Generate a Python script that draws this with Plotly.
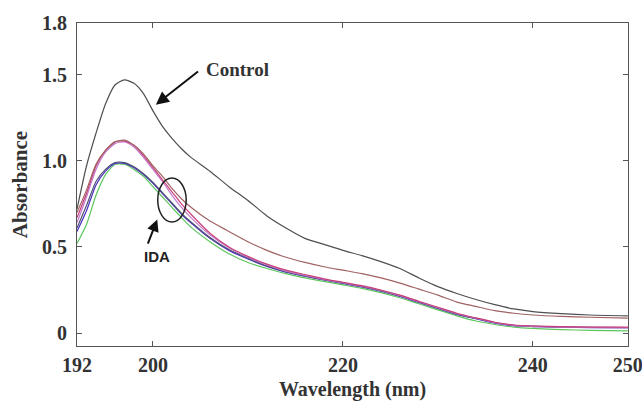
import plotly.graph_objects as go

# Wavelength grid (nm)
wavelength = [192, 193, 194, 195, 196, 197, 198, 199, 200, 201, 202, 203, 204,
              206, 208, 210, 212, 214, 216, 218, 220, 222, 224, 226, 228, 230,
              232, 234, 236, 238, 240, 243, 246, 250]

# Absorbance spectra
control = [0.72, 0.97, 1.16, 1.33, 1.44, 1.47, 1.45, 1.39, 1.29, 1.20, 1.13, 1.07, 1.02,
           0.94, 0.85, 0.77, 0.68, 0.61, 0.55, 0.515, 0.48, 0.45, 0.415, 0.375, 0.32, 0.27,
           0.23, 0.195, 0.165, 0.14, 0.125, 0.113, 0.105, 0.10]
ida_brown = [0.70, 0.83, 0.98, 1.06, 1.11, 1.12, 1.09, 1.04, 0.97, 0.91, 0.84, 0.78, 0.73,
             0.65, 0.59, 0.53, 0.48, 0.44, 0.41, 0.385, 0.365, 0.345, 0.32, 0.29, 0.255, 0.22,
             0.18, 0.155, 0.13, 0.115, 0.105, 0.097, 0.092, 0.087]
ida_crimson = [0.67, 0.81, 0.97, 1.06, 1.11, 1.115, 1.09, 1.03, 0.96, 0.89, 0.82, 0.75, 0.69,
               0.58, 0.50, 0.445, 0.40, 0.365, 0.34, 0.315, 0.295, 0.275, 0.25, 0.22, 0.185, 0.15,
               0.115, 0.088, 0.063, 0.047, 0.041, 0.037, 0.035, 0.034]
ida_violet = [0.64, 0.79, 0.95, 1.05, 1.10, 1.11, 1.08, 1.02, 0.95, 0.88, 0.80, 0.73, 0.67,
              0.57, 0.495, 0.44, 0.395, 0.36, 0.335, 0.312, 0.292, 0.272, 0.247, 0.217, 0.182, 0.147,
              0.112, 0.086, 0.061, 0.045, 0.039, 0.035, 0.033, 0.032]
ida_slate = [0.61, 0.74, 0.88, 0.95, 0.99, 0.99, 0.965, 0.925, 0.875, 0.815, 0.755, 0.695, 0.645,
             0.555, 0.485, 0.435, 0.39, 0.357, 0.332, 0.31, 0.29, 0.27, 0.245, 0.215, 0.18, 0.145,
             0.11, 0.085, 0.06, 0.045, 0.04, 0.035, 0.033, 0.032]
ida_blue = [0.59, 0.71, 0.86, 0.94, 0.985, 0.985, 0.96, 0.92, 0.87, 0.81, 0.75, 0.69, 0.64,
            0.55, 0.48, 0.43, 0.387, 0.354, 0.33, 0.308, 0.288, 0.268, 0.243, 0.213, 0.178, 0.143,
            0.108, 0.083, 0.058, 0.043, 0.038, 0.034, 0.032, 0.031]
ida_green = [0.52, 0.63, 0.80, 0.92, 0.98, 0.98, 0.95, 0.91, 0.85, 0.79, 0.73, 0.67, 0.615,
             0.53, 0.46, 0.41, 0.375, 0.345, 0.32, 0.30, 0.28, 0.26, 0.235, 0.205, 0.17, 0.135,
             0.10, 0.07, 0.05, 0.035, 0.027, 0.02, 0.016, 0.013]

series = [
    (ida_green, "#5cc65c"),
    (ida_blue, "#4a2fc0"),
    (ida_slate, "#505078"),
    (ida_violet, "#c27ad0"),
    (ida_crimson, "#c8407a"),
    (ida_brown, "#a06262"),
    (control, "#4f4f4f"),
]

x_ticks = [192, 200, 220, 240, 250]
y_ticks = [0, 0.5, 1.0, 1.5, 1.8]
y_tick_text = ["0", "0.5", "1.0", "1.5", "1.8"]

fig = go.Figure()
for values, color in series:
    fig.add_trace(go.Scatter(x=wavelength, y=values, mode="lines",
                             line=dict(color=color, width=1.2, shape="spline", smoothing=0.6),
                             showlegend=False))

serif = "Liberation Serif, Times New Roman, serif"
axis_style = dict(showline=True, linecolor="#555555", linewidth=1.2, mirror="ticks",
                  ticks="inside", ticklen=5, tickcolor="#555555", showgrid=False,
                  zeroline=False, automargin=False, ticklabeloverflow="allow",
                  tickfont=dict(family=serif, size=20, color="#333333"))

fig.update_xaxes(range=[192, 250.02], tickvals=x_ticks,
                 ticktext=[f"<b>{t}</b>" for t in x_ticks], ticklabelstandoff=1,
                 title=dict(text="<b>Wavelength (nm)</b>", standoff=20,
                            font=dict(family=serif, size=20, color="#333333")),
                 **axis_style)
fig.update_yaxes(range=[-0.075, 1.8], tickvals=y_ticks, ticktext=[f"<b>{t}</b>" for t in y_tick_text],
                 ticklabelstandoff=5,
                 title=dict(text="<b>Absorbance</b>", standoff=8,
                            font=dict(family=serif, size=21, color="#333333")),
                 **axis_style)

# Control label and arrow
fig.add_annotation(x=205.4, y=1.53, xref="x", yref="y", text="<b>Control</b>",
                   showarrow=False, xanchor="left", yanchor="middle",
                   font=dict(family=serif, size=19, color="#333333"))
fig.add_annotation(x=200.3, y=1.326, ax=204.9, ay=1.525, xref="x", yref="y",
                   axref="x", ayref="y", text="", showarrow=True, arrowhead=2,
                   arrowsize=1.3, arrowwidth=2, arrowcolor="#111111")

# IDA label, arrow and ellipse
fig.add_annotation(x=200.4, y=0.442, xref="x", yref="y", text="<b>IDA</b>",
                   showarrow=False, xanchor="center", yanchor="middle",
                   font=dict(family="Liberation Sans, Arial, sans-serif", size=15, color="#222222"))
fig.add_annotation(x=200.45, y=0.66, ax=199.4, ay=0.51, xref="x", yref="y",
                   axref="x", ayref="y", text="", showarrow=True, arrowhead=2,
                   arrowsize=1.2, arrowwidth=2, arrowcolor="#111111")
fig.add_shape(type="circle", xref="x", yref="y", x0=200.5, x1=203.5, y0=0.645, y1=0.90,
              line=dict(color="#222222", width=1.5))

fig.update_layout(width=642, height=401, margin=dict(l=77, r=14, t=23, b=55),
                  plot_bgcolor="white", paper_bgcolor="white")

fig.write_html("out.html")
